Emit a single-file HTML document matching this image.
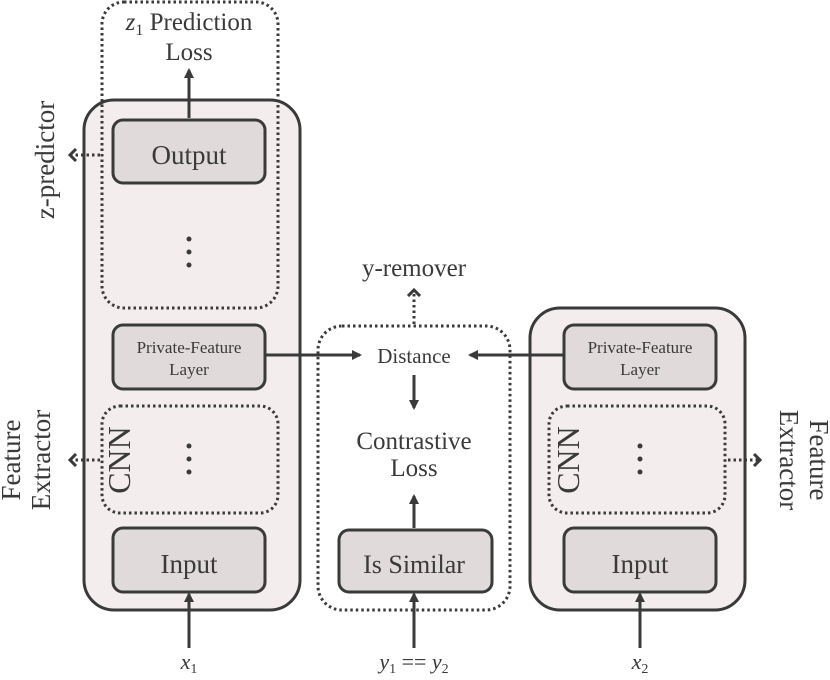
<!DOCTYPE html>
<html><head><style>body{margin:0;background:#fff}</style></head><body>
<svg width="830" height="675" viewBox="0 0 830 675" xmlns="http://www.w3.org/2000/svg" font-family="Liberation Serif, serif" fill="#3a3a3a">
<defs>
<marker id="a" markerWidth="10" markerHeight="10" refX="8" refY="5" orient="auto" markerUnits="userSpaceOnUse"><path d="M0,0 L10,5 L0,10 Z" fill="#3a3a3a"/></marker>
<marker id="c" markerWidth="10" markerHeight="14" refX="7" refY="7" orient="auto" markerUnits="userSpaceOnUse"><path d="M1,1 L7,7 L1,13" fill="none" stroke="#3a3a3a" stroke-width="3"/></marker>
</defs>
<g stroke="#3a3a3a" stroke-width="3">
<rect x="84" y="100" width="216" height="510" rx="30" fill="#f3eded"/>
<rect x="530" y="308" width="215" height="302" rx="30" fill="#f3eded"/>
</g>
<g stroke="#3a3a3a" stroke-width="3" stroke-dasharray="2.5 3" fill="none">
<rect x="102" y="2" width="176" height="306" rx="22"/>
<rect x="102" y="406" width="176" height="107" rx="18"/>
<rect x="318" y="326" width="192" height="284" rx="24"/>
<rect x="549" y="406" width="176" height="107" rx="18"/>
<line x1="100" y1="155" x2="70" y2="155" marker-end="url(#c)"/>
<line x1="100" y1="460" x2="70" y2="460" marker-end="url(#c)"/>
<line x1="728" y1="460" x2="760" y2="460" marker-end="url(#c)"/>
<line x1="414" y1="324" x2="414" y2="290" marker-end="url(#c)"/>
</g>
<g stroke="#3a3a3a" stroke-width="3" fill="#e0dada">
<rect x="113" y="120" width="152" height="63" rx="10"/>
<rect x="113" y="325" width="152" height="64" rx="10"/>
<rect x="113" y="528" width="152" height="64" rx="10"/>
<rect x="339" y="530" width="153" height="62" rx="10"/>
<rect x="564" y="325" width="152" height="64" rx="10"/>
<rect x="564" y="528" width="152" height="64" rx="10"/>
</g>
<g stroke="#3a3a3a" stroke-width="3" fill="none">
<line x1="189" y1="118" x2="189" y2="70" marker-end="url(#a)"/>
<line x1="189" y1="648" x2="189" y2="594" marker-end="url(#a)"/>
<line x1="414" y1="648" x2="414" y2="594" marker-end="url(#a)"/>
<line x1="640" y1="648" x2="640" y2="594" marker-end="url(#a)"/>
<line x1="414" y1="528" x2="414" y2="496" marker-end="url(#a)"/>
<line x1="414" y1="375" x2="414" y2="408" marker-end="url(#a)"/>
<line x1="265" y1="355" x2="360" y2="355" marker-end="url(#a)"/>
<line x1="564" y1="355" x2="470" y2="355" marker-end="url(#a)"/>
</g>
<g font-size="25" text-anchor="middle">
<text x="189" y="30"><tspan font-style="italic">z</tspan><tspan font-size="16" dy="5">1</tspan><tspan dy="-5"> Prediction</tspan></text>
<text x="189" y="60">Loss</text>
<text x="189" y="164" font-size="27">Output</text>
<text x="189" y="573" font-size="27">Input</text>
<text x="640" y="573" font-size="27">Input</text>
<text x="414" y="573" font-size="26">Is Similar</text>
<text x="414" y="449">Contrastive</text>
<text x="414" y="476">Loss</text>
<text x="414" y="276">y-remover</text>
<text x="414" y="363" font-size="21">Distance</text>
</g>
<g font-size="17" text-anchor="middle">
<text x="189" y="353">Private-Feature</text><text x="189" y="375">Layer</text>
<text x="640" y="353">Private-Feature</text><text x="640" y="375">Layer</text>
</g>
<g>
<circle cx="189" cy="239" r="2.5"/><circle cx="189" cy="252" r="2.5"/><circle cx="189" cy="265" r="2.5"/>
<circle cx="189" cy="446" r="2.5"/><circle cx="189" cy="459" r="2.5"/><circle cx="189" cy="472" r="2.5"/>
<circle cx="640" cy="446" r="2.5"/><circle cx="640" cy="459" r="2.5"/><circle cx="640" cy="472" r="2.5"/>
</g>
<g font-size="32" text-anchor="middle">
<text transform="translate(130,460) rotate(-90)">CNN</text>
<text transform="translate(579,460) rotate(-90)">CNN</text>
</g>
<g font-size="27" text-anchor="middle">
<text transform="translate(54,160) rotate(-90)">z-predictor</text>
<text transform="translate(20,460) rotate(-90)">Feature</text>
<text transform="translate(50,460) rotate(-90)">Extractor</text>
<text transform="translate(810,460) rotate(90)">Feature</text>
<text transform="translate(780,460) rotate(90)">Extractor</text>
</g>
<g font-size="22" text-anchor="middle" font-style="italic">
<text x="189" y="669">x<tspan font-size="14" font-style="normal" dy="4">1</tspan></text>
<text x="640" y="669">x<tspan font-size="14" font-style="normal" dy="4">2</tspan></text>
<text x="414" y="669">y<tspan font-size="14" font-style="normal" dy="4">1</tspan><tspan font-style="normal" dy="-4"> == </tspan>y<tspan font-size="14" font-style="normal" dy="4">2</tspan></text>
</g>
</svg>
</body></html>
